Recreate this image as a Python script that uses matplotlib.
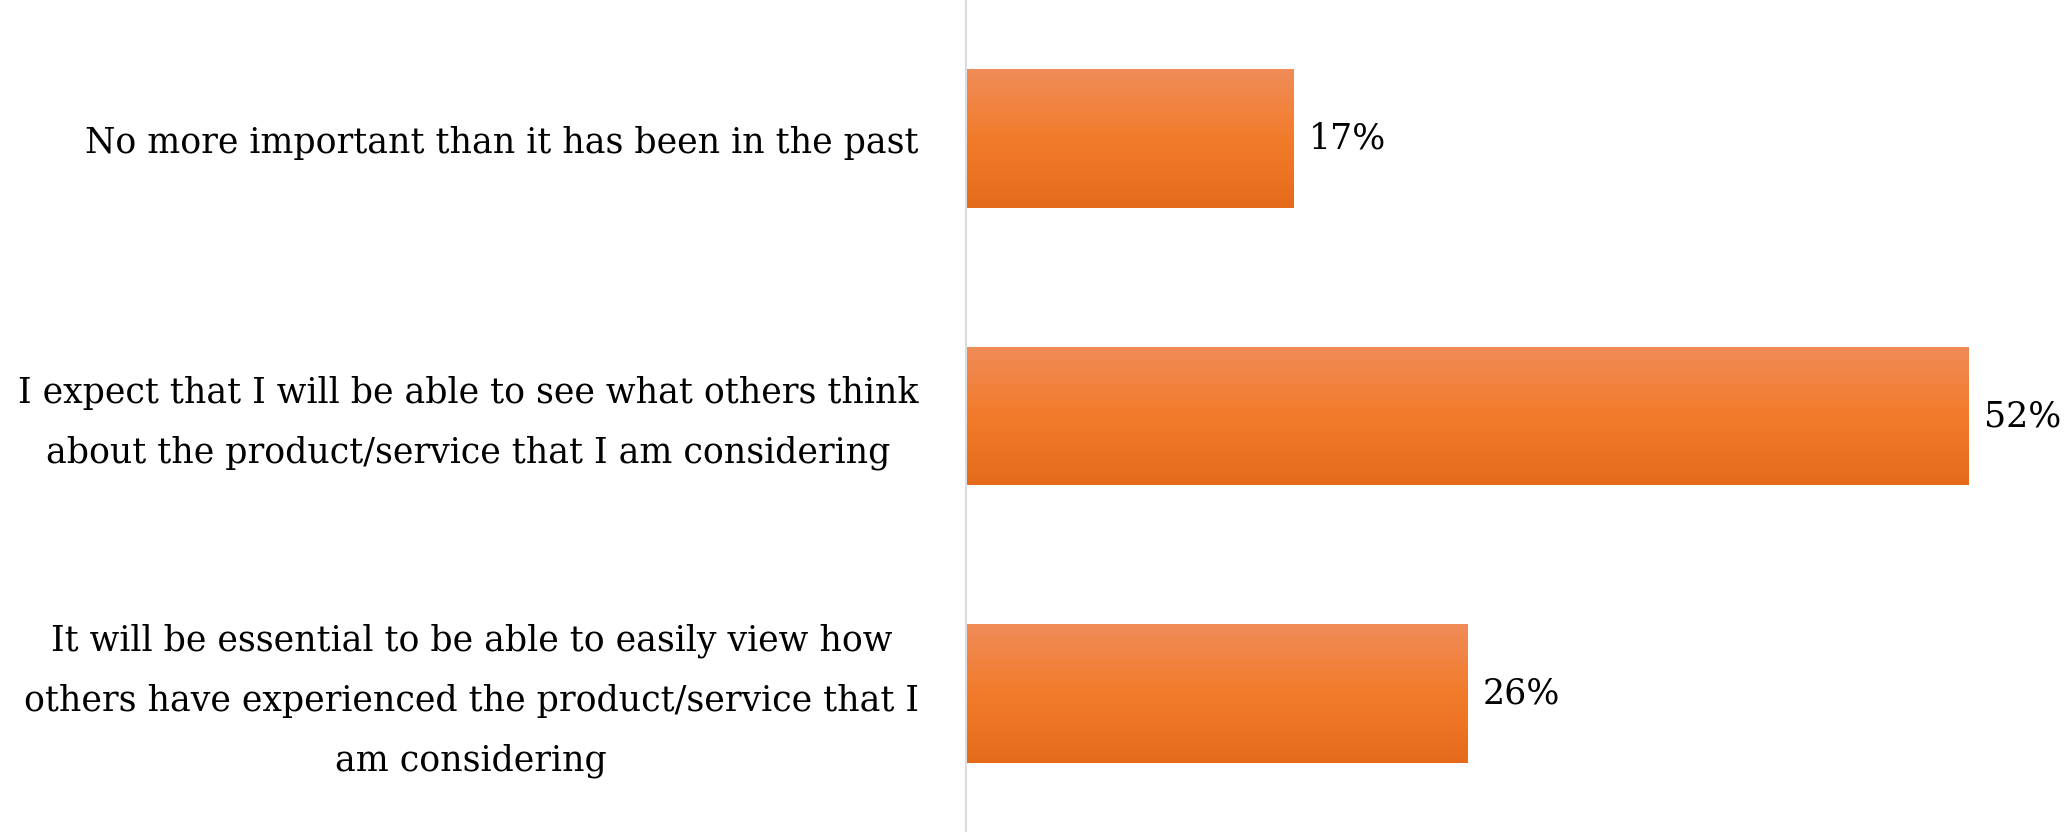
import matplotlib
matplotlib.use("Agg")
import matplotlib.pyplot as plt
import numpy as np
from matplotlib.colors import LinearSegmentedColormap

categories = [
    "No more important than it has been in the past",
    "I expect that I will be able to see what others think\nabout the product/service that I am considering",
    "It will be essential to be able to easily view how\nothers have experienced the product/service that I\nam considering",
]
values = [17, 52, 26]
value_labels = ["17%", "52%", "26%"]

W, H = 2067, 832
fig = plt.figure(figsize=(W / 100, H / 100), dpi=100)
ax_left = 966 / W
ax = fig.add_axes([ax_left, 0, 1 - ax_left, 1])

y = np.arange(len(categories))
bars = ax.barh(y, values, height=0.5, color="#F27B2A", edgecolor="none")

cmap = LinearSegmentedColormap.from_list(
    "g", [(0, "#F08C58"), (0.5, "#F27B2A"), (1, "#E56B1A")])
grad = np.linspace(0, 1, 256).reshape(-1, 1)
for b in bars:
    x0, y0 = b.get_x(), b.get_y()
    w, h = b.get_width(), b.get_height()
    im = ax.imshow(grad, cmap=cmap, aspect="auto",
                   extent=(x0, x0 + w, y0 + h, y0), zorder=2,
                   interpolation="bilinear")
    im.set_clip_path(b)
ax.set_ylim(len(categories) - 0.5, -0.5)
ax.set_xlim(0, 57.1)

for b, lab in zip(bars, value_labels):
    ax.text(b.get_width() + 0.8, b.get_y() + b.get_height() / 2, lab,
            va="center", ha="left", fontsize=25, family="DejaVu Serif",
            color="#000000")

for yi, cat in zip(y, categories):
    nlines = cat.count("\n") + 1
    dy = -5.3 if nlines > 1 else -3
    ax.annotate(cat, xy=(0, yi), xycoords=ax.get_yaxis_transform(),
                xytext=(-34, dy), textcoords="offset points",
                ha="right", va="center", fontsize=25, family="DejaVu Serif",
                multialignment="center", linespacing=1.94, color="#000000",
                annotation_clip=False)

ax.set_yticks([])
ax.set_xticks([])
for s in ["top", "right", "bottom"]:
    ax.spines[s].set_visible(False)
ax.spines["left"].set_color("#D9DDE6")
ax.spines["left"].set_linewidth(1.5)

fig.savefig("out.png", dpi=100)
